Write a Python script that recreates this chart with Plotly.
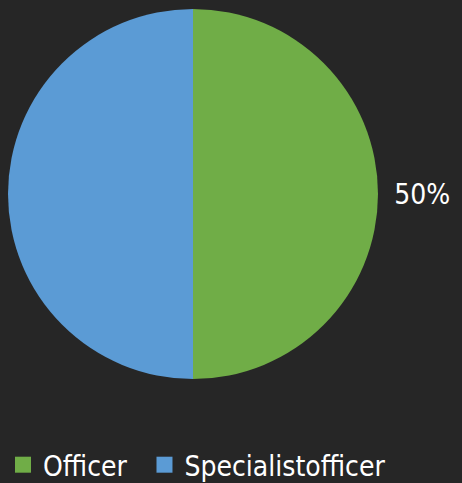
import plotly.graph_objects as go

labels = ["Officer", "Specialistofficer"]
values = [50, 50]
slice_text = ["\u00a050%", ""]
colors = ["#70AD47", "#5B9BD5"]

W, H = 462, 483
BG = "#262626"
FONT = "DejaVu Sans Condensed, DejaVu Sans, sans-serif"

fig = go.Figure()

fig.add_trace(go.Pie(
    labels=labels,
    values=values,
    text=slice_text,
    textinfo="text",
    textposition="outside",
    sort=False,
    direction="clockwise",
    rotation=0,
    marker=dict(colors=colors, line=dict(width=0)),
    outsidetextfont=dict(color="#FFFFFF", size=28, family=FONT),
    automargin=False,
    showlegend=False,
    domain=dict(x=[8 / W, 378 / W], y=[1 - 379 / H, 1 - 9 / H]),
    hoverinfo="label+percent",
))

# legend entries with larger square swatches (en space keeps item spacing)
legend_names = ["Officer\u2002", "Specialistofficer"]
for name, col in zip(legend_names, colors):
    fig.add_trace(go.Scatter(
        x=[None], y=[None], mode="markers", name=name,
        marker=dict(symbol="square", size=18, color=col),
        hoverinfo="skip",
    ))

fig.update_layout(
    width=W,
    height=H,
    paper_bgcolor=BG,
    plot_bgcolor=BG,
    margin=dict(t=0, b=0, l=0, r=0, autoexpand=False),
    font=dict(family=FONT, size=28, color="#FFFFFF"),
    showlegend=True,
    xaxis=dict(visible=False),
    yaxis=dict(visible=False),
    legend=dict(
        orientation="h",
        x=3 / W, xanchor="left",
        y=1 - 465 / H, yanchor="middle",
        font=dict(size=28, color="#FFFFFF", family=FONT),
        itemsizing="trace",
        bgcolor="rgba(0,0,0,0)",
        itemwidth=30,
        tracegroupgap=0,
    ),
)

fig.write_html(
    "out.html",
    config={"displayModeBar": False},
    post_script="document.body.style.margin='0';document.body.style.overflow='hidden';",
)
